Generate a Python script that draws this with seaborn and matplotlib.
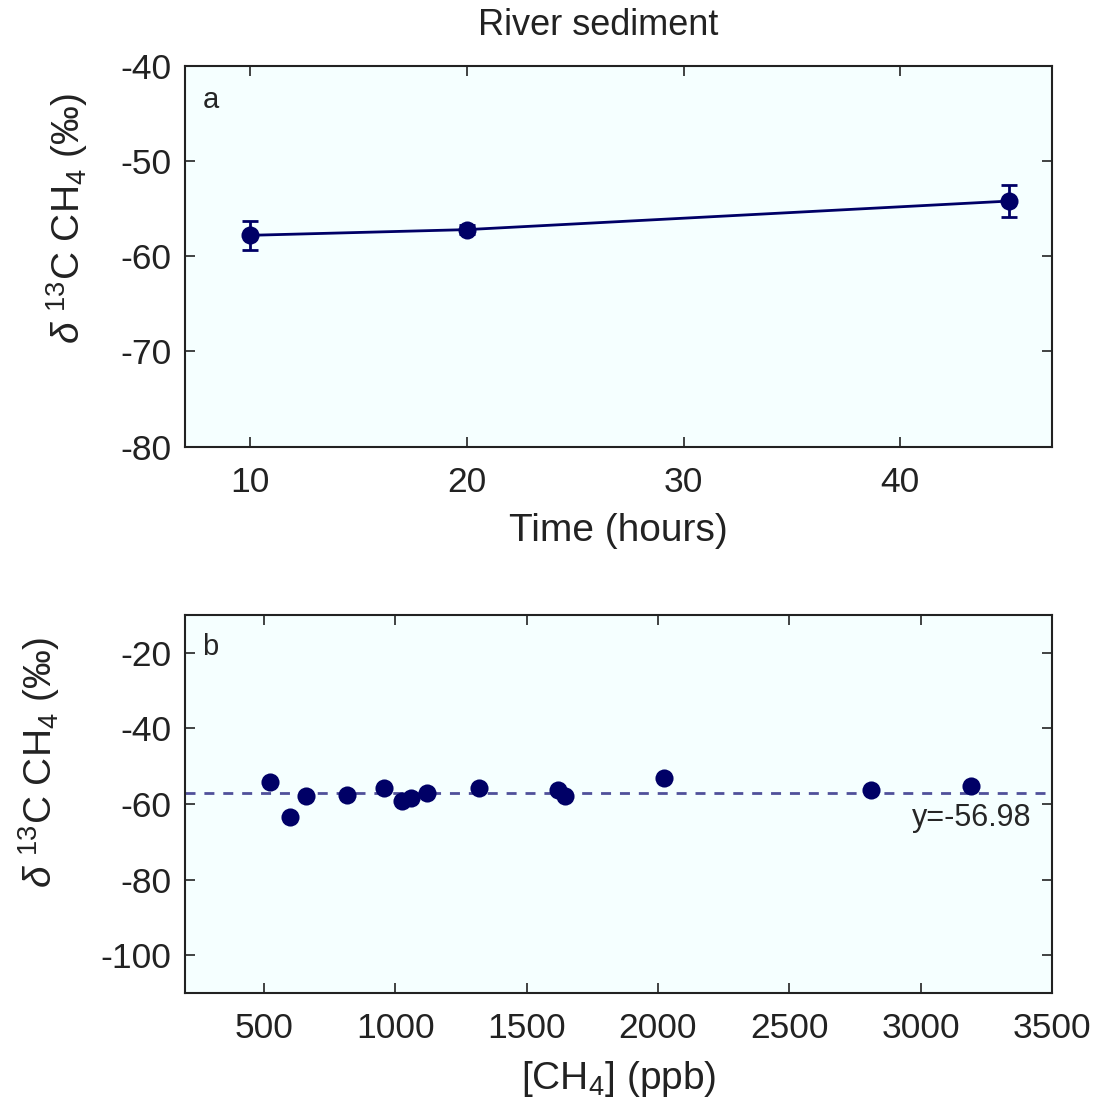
import matplotlib
matplotlib.use("Agg")
import matplotlib.pyplot as plt
import seaborn as sns
import pandas as pd

# ---- data ----
time_hours = [10, 20, 45]
d13c_time = [-57.8, -57.2, -54.2]
d13c_time_err = [1.5, 0.5, 1.7]

ch4_ppb = [522, 601, 662, 818, 958, 1027, 1061, 1121, 1318, 1619, 1647, 2024, 2811, 3192]
d13c_ch4 = [-54.1, -63.3, -58.0, -57.5, -55.8, -59.2, -58.3, -57.0, -55.8, -56.4,
            -57.9, -53.0, -56.3, -55.2]
fit_y = -56.98

top_yticks = [-80, -70, -60, -50, -40]
top_xticks = [10, 20, 30, 40]
bot_yticks = [-100, -80, -60, -40, -20]
bot_xticks = [500, 1000, 1500, 2000, 2500, 3000, 3500]

sns.set_style("ticks")
plt.rcParams['font.family'] = ['Liberation Sans', 'DejaVu Sans']
plt.rcParams['mathtext.fontset'] = 'custom'
plt.rcParams['mathtext.rm'] = 'Liberation Sans'
plt.rcParams['mathtext.it'] = 'Liberation Sans:italic'
plt.rcParams['mathtext.bf'] = 'Liberation Sans:bold'
plt.rcParams['axes.unicode_minus'] = False

navy = '#000066'
bg = '#F5FFFF'
tick_fs = 25.5
label_fs = 28

df_time = pd.DataFrame({'time': time_hours, 'd13c': d13c_time, 'err': d13c_time_err})
df_ch4 = pd.DataFrame({'ch4': ch4_ppb, 'd13c': d13c_ch4})

fig = plt.figure(figsize=(11.02, 11.11), dpi=100)
ax1 = fig.add_axes([0.1679, 0.5981, 0.7868, 0.3425])
ax2 = fig.add_axes([0.1679, 0.1062, 0.7868, 0.3402])

ylab = r'$\delta$ $^{13}$C CH$_4$ (‰)'

# ---- panel a ----
ax1.errorbar(df_time['time'], df_time['d13c'], yerr=df_time['err'], fmt='none',
             ecolor=navy, elinewidth=2, capsize=6, capthick=2, zorder=2)
sns.lineplot(data=df_time, x='time', y='d13c', ax=ax1, color=navy, linewidth=2,
             marker='o', markersize=13, markeredgewidth=0, zorder=3)
ax1.set_xlim(7, 47)
ax1.set_ylim(-80, -40)
ax1.set_xticks(top_xticks)
ax1.set_yticks(top_yticks)
ax1.set_xlabel('Time (hours)', fontsize=label_fs, labelpad=10)
ax1.set_ylabel(ylab, fontsize=label_fs)
ax1.yaxis.set_label_coords(-0.11, 0.6)
ax1.text(0.02, 0.89, 'a', transform=ax1.transAxes, fontsize=21, va='baseline', ha='left')

# ---- panel b ----
ax2.axhline(fit_y, color='#50509a', linewidth=2, dashes=(3.6, 3.2), zorder=2)
sns.scatterplot(data=df_ch4, x='ch4', y='d13c', ax=ax2, color=navy, s=170,
                linewidth=0, zorder=3)
ax2.set_xlim(200, 3500)
ax2.set_ylim(-110, -10)
ax2.set_xticks(bot_xticks)
ax2.set_yticks(bot_yticks)
ax2.set_xlabel(r'[CH$_4$] (ppb)', fontsize=label_fs, labelpad=10)
ax2.set_ylabel(ylab, fontsize=label_fs)
ax2.yaxis.set_label_coords(-0.142, 0.61)
ax2.text(0.02, 0.894, 'b', transform=ax2.transAxes, fontsize=21, va='baseline', ha='left')
ax2.text(3422, -63.8, 'y=-56.98', fontsize=22, ha='right', va='center')

for ax in (ax1, ax2):
    ax.set_facecolor(bg)
    for sp in ax.spines.values():
        sp.set_visible(True)
        sp.set_color('#222222')
        sp.set_linewidth(1.5)
    ax.tick_params(axis='both', which='major', direction='in', length=7.5, width=1.2,
                   top=True, right=True, labelsize=tick_fs, colors='#222222')
    ax.tick_params(axis='x', pad=14)
    ax.tick_params(axis='y', pad=10)
    ax.xaxis.label.set_color('#222222')
    ax.yaxis.label.set_color('#222222')

fig.text(0.5427, 0.9685, 'River sediment', fontsize=26, ha='center', va='baseline',
         color='#222222')

fig.savefig('out.png', dpi=100, facecolor='white')
